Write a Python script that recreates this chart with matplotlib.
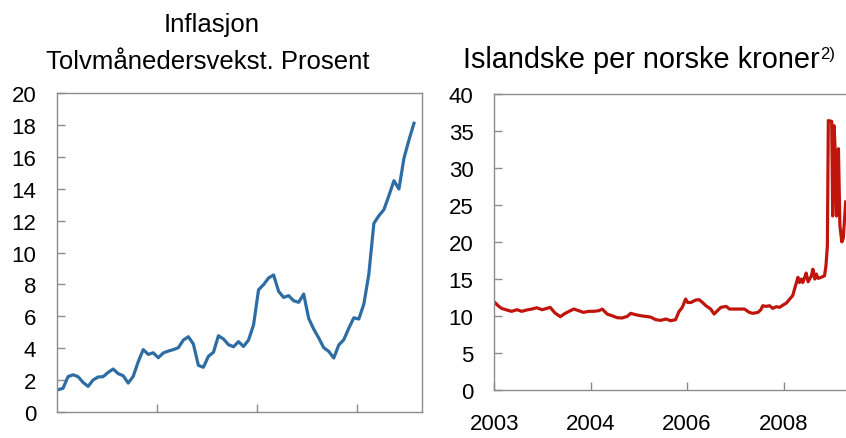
import matplotlib
matplotlib.use("Agg")
import matplotlib.pyplot as plt

plt.rcParams['font.family'] = ['Liberation Sans', 'DejaVu Sans']

# Inflation, twelve-month growth, monthly (month index 0..71)
inflation = [1.38, 1.47, 2.20, 2.32, 2.20, 1.84, 1.59, 1.99, 2.18, 2.20, 2.47, 2.68,
             2.39, 2.26, 1.80, 2.22, 3.14, 3.90, 3.60, 3.70, 3.39, 3.69, 3.81, 3.90,
             4.02, 4.50, 4.71, 4.25, 2.91, 2.79, 3.48, 3.73, 4.77, 4.57, 4.21, 4.08,
             4.40, 4.10, 4.50, 5.45, 7.66, 7.98, 8.40, 8.59, 7.56, 7.18, 7.29, 6.97,
             6.87, 7.39, 5.86, 5.19, 4.63, 4.02, 3.79, 3.37, 4.19, 4.52, 5.24, 5.90,
             5.82, 6.76, 8.65, 11.83, 12.31, 12.69, 13.57, 14.51, 13.99, 15.92, 17.07, 18.12]
months = list(range(len(inflation)))
left_yticks = [0, 2, 4, 6, 8, 10, 12, 14, 16, 18, 20]
left_xticks = [19.7, 39.65, 59.6]

# ISK per NOK
isk_years = [2002.01, 2002.08, 2002.15, 2002.26, 2002.36, 2002.47, 2002.57, 2002.67, 2002.78, 2002.88,
             2002.99, 2003.09, 2003.16, 2003.26, 2003.37, 2003.47, 2003.58, 2003.65, 2003.75, 2003.85,
             2003.96, 2004.06, 2004.17, 2004.24, 2004.34, 2004.44, 2004.55, 2004.65, 2004.76, 2004.83,
             2004.93, 2005.03, 2005.14, 2005.24, 2005.35, 2005.45, 2005.56, 2005.66, 2005.76, 2005.83,
             2005.90, 2005.97, 2006.01, 2006.08, 2006.18, 2006.25, 2006.32, 2006.39, 2006.49, 2006.56,
             2006.63, 2006.70, 2006.81, 2006.88, 2006.98, 2007.08, 2007.19, 2007.29, 2007.36, 2007.47,
             2007.53, 2007.57, 2007.64, 2007.71, 2007.78, 2007.85, 2007.92, 2007.99, 2008.06, 2008.13,
             2008.19, 2008.26, 2008.30, 2008.33, 2008.37, 2008.40, 2008.44, 2008.47, 2008.51, 2008.58,
             2008.61, 2008.65, 2008.68, 2008.72, 2008.78, 2008.85, 2008.88, 2008.91, 2008.93, 2009.00,
             2009.02, 2009.05, 2009.07, 2009.10, 2009.14, 2009.17, 2009.21, 2009.24, 2009.29]
isk_values = [11.8, 11.36, 11.0, 10.78, 10.6, 10.82, 10.6, 10.78, 10.91, 11.09,
              10.82, 11.0, 11.14, 10.37, 9.88, 10.33, 10.69, 10.91, 10.69, 10.46,
              10.6, 10.6, 10.69, 10.91, 10.24, 10.01, 9.74, 9.70, 9.92, 10.33,
              10.15, 10.01, 9.92, 9.83, 9.47, 9.38, 9.56, 9.33, 9.47, 10.55,
              11.14, 12.27, 11.8, 11.8, 12.13, 12.18, 11.8, 11.36, 10.91, 10.24,
              10.69, 11.14, 11.27, 10.91, 10.91, 10.91, 10.91, 10.46, 10.33, 10.46,
              10.82, 11.36, 11.27, 11.36, 11.0, 11.23, 11.14, 11.45, 11.72, 12.27,
              12.72, 14.3, 15.2, 14.5, 14.97, 14.5, 15.2, 15.78, 14.6, 15.4,
              16.3, 14.97, 15.65, 15.06, 15.2, 15.4, 16.7, 19.4, 36.4, 36.3,
              23.5, 35.7, 32.6, 23.5, 32.6, 22.2, 20.0, 20.5, 25.4]
right_yticks = [0, 5, 10, 15, 20, 25, 30, 35, 40]
right_xticks = [2002, 2004, 2006, 2008]
right_xlabels = ['2003', '2004', '2006', '2008']

W, H = 846, 439
fig = plt.figure(figsize=(W / 100, H / 100), dpi=100)

spine_col = '#8c8c8c'
fs_tick = 16
fs_title = 18.5

# left panel
ax1 = fig.add_axes([57 / W, 1 - 412.7 / H, 364.5 / W, 318.4 / H])
ax1.plot(months, inflation, color='#2e6da4', lw=2.3, solid_joinstyle='round')
ax1.set_xlim(-0.2, 72.5)
ax1.set_ylim(0, 20)
ax1.set_yticks(left_yticks)
ax1.set_xticks(left_xticks)
ax1.set_xticklabels([])

# right panel
ax2 = fig.add_axes([494.3 / W, 1 - 390.7 / H, 361.5 / W, 295.7 / H])
ax2.plot(isk_years, isk_values, color='#c0150c', lw=2.3, solid_joinstyle='round')
ax2.set_xlim(2002, 2009.5)
ax2.set_ylim(0, 40)
ax2.set_yticks(right_yticks)
ax2.set_xticks(right_xticks)
ax2.set_xticklabels(right_xlabels)

for ax in (ax1, ax2):
    for s in ax.spines.values():
        s.set_color(spine_col)
        s.set_linewidth(1.0)
    ax.tick_params(direction='in', length=6, width=1.0, color=spine_col,
                   labelsize=fs_tick, pad=15)
    ax.tick_params(axis='x', pad=17)

fig.text(211.7 / W, 1 - 31.7 / H, 'Inflasjon', ha='center', va='baseline', fontsize=fs_title)
fig.text(46 / W, 1 - 69.3 / H, 'Tolvmånedersvekst. Prosent', ha='left', va='baseline',
         fontsize=fs_title)
t = fig.text(462.5 / W, 1 - 68 / H, 'Islandske per norske kroner', ha='left', va='baseline',
             fontsize=20.8)
ax2.annotate('2)', xy=(1.0, 1.0), xycoords=t, ha='left', va='top', fontsize=12,
             xytext=(0.5, -1), textcoords='offset points', annotation_clip=False)

fig.savefig('out.png', dpi=100)
